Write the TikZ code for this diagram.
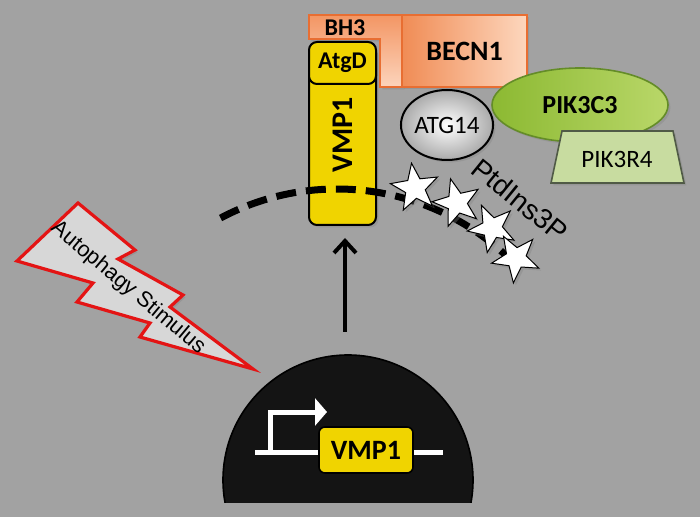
\documentclass[tikz,border=0pt]{standalone}
\usepackage{fontspec}
\setmainfont{Carlito}
\newfontfamily\arialfont{Liberation Sans}
\usepackage{xcolor}
\usepackage{tikz}
\usetikzlibrary{shapes.geometric,arrows.meta,shadows,positioning}

\definecolor{bggray}{RGB}{162,162,162}
\definecolor{becndark}{RGB}{240,140,85}
\definecolor{becnlight}{RGB}{253,215,190}
\definecolor{bhorange}{RGB}{243,150,100}
\definecolor{bhlight}{RGB}{252,212,188}
\definecolor{orangeline}{RGB}{232,110,50}
\definecolor{vmpyellow}{RGB}{240,212,0}
\definecolor{atggray}{RGB}{170,170,170}
\definecolor{pikgreen}{RGB}{140,185,50}
\definecolor{piklight}{RGB}{185,215,105}
\definecolor{pikline}{RGB}{100,140,40}
\definecolor{pikrfill}{RGB}{200,220,160}
\definecolor{pikrline}{RGB}{80,90,70}
\definecolor{boltgray}{RGB}{215,215,215}
\definecolor{boltred}{RGB}{228,20,20}
\definecolor{nucleusblack}{RGB}{20,20,20}

\begin{document}
\begin{tikzpicture}[
    x=0.5pt, y=-0.5pt,
    softshadow/.style={drop shadow={opacity=0.35, shadow xshift=1.2pt, shadow yshift=-1.2pt}},
    bhshape/.style={draw=orangeline, line width=1.2pt, top color=bhorange, bottom color=bhlight, softshadow},
    becnbox/.style={rectangle, draw=orangeline, line width=1.2pt, left color=becndark, right color=becnlight, softshadow, font=\bfseries\fontsize{14}{16}\selectfont},
    yellowbox/.style={rectangle, rounded corners=4pt, draw=black, line width=1pt, fill=vmpyellow, inner sep=0pt, font=\bfseries\fontsize{15}{17}\selectfont},
    atgball/.style={ellipse, draw=black, line width=1pt, inner color=white, outer color=atggray, softshadow, inner sep=0pt, font=\fontsize{12.5}{14}\selectfont},
    pikoval/.style={ellipse, draw=pikline, line width=0.8pt, left color=pikgreen, right color=piklight, softshadow, inner sep=0pt, font=\bfseries\fontsize{13}{15}\selectfont},
    piktrap/.style={draw=pikrline, line width=0.8pt, fill=pikrfill, softshadow},
    membrane/.style={line width=3.5pt, dash pattern=on 10pt off 5pt},
    starnode/.style={star, star points=5, star point ratio=2.4, minimum size=25pt, inner sep=0pt, draw=black, line width=0.5pt, fill=white, softshadow},
    uparrow/.style={line width=2pt, -{Straight Barb[length=6pt, width=11pt, line width=2pt]}, softshadow},
    boltshape/.style={draw=boltred, line width=1.6pt, fill=boltgray, line join=miter, softshadow},
    gene/.style={draw=white, line width=2.5pt},
    promoter/.style={draw=white, line width=2.5pt, -{Triangle[length=6pt, width=13.5pt]}},
    genebox/.style={rectangle, rounded corners=3pt, draw=black, line width=0.8pt, fill=vmpyellow, minimum width=47pt, minimum height=23pt, font=\bfseries\fontsize{14}{16}\selectfont}
]

% background
\useasboundingbox (0,0) rectangle (700,517);
\fill[bggray] (0,0) rectangle (700,517);

% BH3 / BECN1
\draw[bhshape] (309,15) -- (402,15) -- (402,87) -- (380,87) -- (380,39) -- (309,39) -- cycle;
\node[font=\bfseries\fontsize{12}{14}\selectfont] (bh3) at (345,28) {BH3};
\node[becnbox, minimum width=62.5pt, minimum height=36pt] (becn1) at (464.5,51) {BECN1};

% VMP1 protein
\node[yellowbox, rotate=90, minimum width=90pt, minimum height=33.5pt, softshadow] (vmp1) at (342.5,135) {VMP1};
\node[yellowbox, minimum width=33.5pt, minimum height=21pt, font=\bfseries\fontsize{12}{14}\selectfont] (atgd) at (342.5,63) {AtgD};

% complex partners
\node[atgball, minimum width=39pt, minimum height=35pt] (atg14) at (447,125) {ATG14};
\node[pikoval, minimum width=88pt, minimum height=37pt] (pik3c3) at (580,105) {PIK3C3};
\draw[piktrap] (562,131) -- (673,131) -- (684,183) -- (551,183) -- cycle;
\node[font=\fontsize{12.5}{14}\selectfont] (pik3r4) at (617,159) {PIK3R4};

% membrane and PtdIns3P
\draw[membrane] (337,437) ++(-118:248) arc[start angle=-118, end angle=-42, radius=248];
\node[starnode, rotate=8] (star1) at (415,188) {};
\node[starnode, rotate=15] (star2) at (457,203) {};
\node[starnode, rotate=25] (star3) at (492,228) {};
\node[starnode, rotate=30] (star4) at (516,258) {};
\node[rotate=-39, font=\arialfont\fontsize{14}{16}\selectfont] (ptdins) at (520,200) {PtdIns3P};

% stimulus
\draw[boltshape] (78,203) -- (135,250) -- (118,259) -- (183,295) -- (170,307) -- (253,369)
  -- (140,337) -- (150,323) -- (77,302) -- (93,283) -- (17,261) -- cycle;
\node[rotate=-40, font=\arialfont\fontsize{10.9}{12}\selectfont] (stimulus) at (128,288) {Autophagy Stimulus};

% expression arrow
\coordinate (arrowfoot) at (345,332);
\coordinate (arrowtip) at (345,238);
\draw[uparrow] (arrowfoot) -- (arrowtip);

% nucleus with VMP1 gene
\begin{scope}
  \clip (0,0) rectangle (700,502);
  \node[circle, draw=black, line width=0.8pt, fill=nucleusblack, minimum size=125pt] (nucleus) at (348,480) {};
\end{scope}
\coordinate (genestart) at (255,452);
\coordinate (geneend) at (443,452);
\coordinate (tss) at (270,452);
\coordinate (tsstip) at (327,412);
\draw[gene] (genestart) -- (geneend);
\draw[promoter] (tss) |- (tsstip);
\node[genebox] (vmpgene) at (366,450) {VMP1};

\end{tikzpicture}
\end{document}
